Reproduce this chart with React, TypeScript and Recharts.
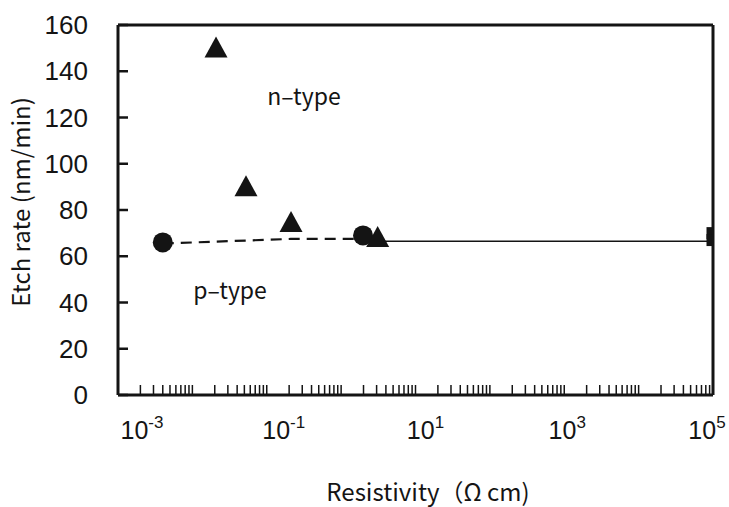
import React from "react";
import {
  ScatterChart,
  Scatter,
  XAxis,
  YAxis,
  ReferenceLine,
} from "recharts";

// resistivity (ohm cm) / etch rate (nm/min)
const nTypeX = [0.0208, 0.0526, 0.212, 3.1];
const nTypeY = [149, 89, 73.5, 67];
const pTypeX = [0.004, 1.97];
const pTypeY = [66, 69];
const highResX = [1e5, 1e5];
const highResY = [70, 67];
const pLineX = [0.004, 0.21, 1.97];
const pLineY = [65.5, 67.5, 67.5];
const nLineX = [3.1, 1e5];
const nLineY = [66.5, 66.5];

const decades = [-3, -2, -1, 0, 1, 2, 3, 4, 5];
const labelDecades = [-3, -1, 1, 3, 5];
const minorSteps = [1, 2, 3, 4, 5, 6, 7, 8, 9];
const yTicks = [0, 20, 40, 60, 80, 100, 120, 140, 160];
const X_MIN = 1e-3;
const X_MAX = 1e5;
const Y_MAX = 160;

const zip = (xs: number[], ys: number[]) => xs.map((x, i) => ({ x, y: ys[i] }));

const xTicks: number[] = [];
decades.forEach((d, i) => {
  if (i === decades.length - 1) {
    xTicks.push(Math.pow(10, d));
    return;
  }
  minorSteps.forEach((m) => xTicks.push(Number((m * Math.pow(10, d)).toPrecision(3))));
});

const INK = "#141414";
const TICK_FONT = "'Liberation Sans', Arial, sans-serif";
const LABEL_FONT = "'Noto Sans CJK JP', 'Noto Sans', sans-serif";
const Y_TICK_GAP = 30;

// eslint-disable-next-line @typescript-eslint/no-explicit-any
const Triangle = (props: any) => {
  const { cx, cy } = props;
  const w = 11.5;
  const h = 21;
  return (
    <polygon
      points={`${cx},${cy - (h * 2) / 3} ${cx + w},${cy + h / 3} ${cx - w},${cy + h / 3}`}
      fill={INK}
    />
  );
};

// eslint-disable-next-line @typescript-eslint/no-explicit-any
const Dot = (props: any) => <circle cx={props.cx} cy={props.cy} r={10} fill={INK} />;

// eslint-disable-next-line @typescript-eslint/no-explicit-any
const Square = (props: any) => (
  <rect x={props.cx - 6.5} y={props.cy - 6} width={13} height={12} fill={INK} />
);

const NoMark = () => <g />;

// excel-style label placement: labels sit a bit right of their ticks, last one pulled in
const labelShift = (exp: number) => (exp === 5 ? -6 : 24 - (exp + 3) * 3.5);

// eslint-disable-next-line @typescript-eslint/no-explicit-any
const XTick = (props: any) => {
  const { x, y, payload } = props;
  const exp = Math.round(Math.log10(payload.value));
  const isDecade = Math.abs(Math.log10(payload.value) - exp) < 1e-6;
  if (!isDecade || !labelDecades.includes(exp)) return <g />;
  return (
    <text
      x={x + labelShift(exp)}
      y={y}
      dy={44}
      textAnchor="middle"
      fill={INK}
      fontSize={25}
      fontFamily={TICK_FONT}
    >
      10
      <tspan dy={-11} fontSize={17}>
        {exp}
      </tspan>
    </text>
  );
};

// value label plus a short tick pointing into the plot
// eslint-disable-next-line @typescript-eslint/no-explicit-any
const YTick = (props: any) => {
  const { x, y, payload } = props;
  return (
    <g>
      <path d={`M${x + Y_TICK_GAP},${y}h10`} stroke={INK} strokeWidth={2.5} fill="none" />
      <text x={x} y={y} dy={9} textAnchor="end" fill={INK} fontSize={26} fontFamily={TICK_FONT}>
        {payload.value}
      </text>
    </g>
  );
};

export default function App() {
  return (
    <div style={{ position: "absolute", left: 0, top: 0, width: 729, height: 507, background: "#fff" }}>
      <ScatterChart width={729} height={507} margin={{ top: 25, right: 16, bottom: 0, left: 0 }}>
        <XAxis
          type="number"
          dataKey="x"
          scale="log"
          domain={[X_MIN, X_MAX]}
          allowDataOverflow
          ticks={xTicks}
          interval={0}
          height={112}
          tickSize={-10}
          tickMargin={10}
          tick={<XTick />}
          tickLine={{ stroke: INK, strokeWidth: 1.5 }}
          axisLine={{ stroke: INK, strokeWidth: 3 }}
        />
        <YAxis
          type="number"
          dataKey="y"
          domain={[0, Y_MAX]}
          ticks={yTicks}
          interval={0}
          width={118}
          tickSize={0}
          tickMargin={Y_TICK_GAP}
          tick={<YTick />}
          tickLine={false}
          axisLine={{ stroke: INK, strokeWidth: 3 }}
        />
        {/* remaining frame: top and right borders */}
        <ReferenceLine y={Y_MAX} stroke={INK} strokeWidth={3} ifOverflow="visible" />
        <ReferenceLine x={X_MAX} stroke={INK} strokeWidth={3} ifOverflow="visible" />
        <Scatter
          data={zip(pLineX, pLineY)}
          line={{ stroke: INK, strokeWidth: 2.2, strokeDasharray: "11 7" }}
          shape={NoMark}
          isAnimationActive={false}
        />
        <Scatter
          data={zip(nLineX, nLineY)}
          line={{ stroke: INK, strokeWidth: 1.5 }}
          shape={NoMark}
          isAnimationActive={false}
        />
        <Scatter data={zip(highResX, highResY)} shape={Square} isAnimationActive={false} />
        <Scatter data={zip(pTypeX, pTypeY)} shape={Dot} isAnimationActive={false} />
        <Scatter data={zip(nTypeX, nTypeY)} shape={Triangle} isAnimationActive={false} />
      </ScatterChart>
      <svg
        width={729}
        height={507}
        style={{ position: "absolute", left: 0, top: 0, pointerEvents: "none" }}
      >
        <text
          x={0}
          y={0}
          transform="translate(30,202) rotate(-90)"
          textAnchor="middle"
          fill={INK}
          fontSize={24}
          fontFamily={LABEL_FONT}
        >
          Etch rate (nm/min)
        </text>
        <text x={428} y={501} textAnchor="middle" fill={INK} fontSize={24} fontFamily={LABEL_FONT}>
          Resistivity（Ω cm)
        </text>
        <text x={304} y={105} textAnchor="middle" fill={INK} fontSize={23} fontFamily={LABEL_FONT}>
          n‒type
        </text>
        <text x={230} y={299} textAnchor="middle" fill={INK} fontSize={23} fontFamily={LABEL_FONT}>
          p‒type
        </text>
      </svg>
    </div>
  );
}
